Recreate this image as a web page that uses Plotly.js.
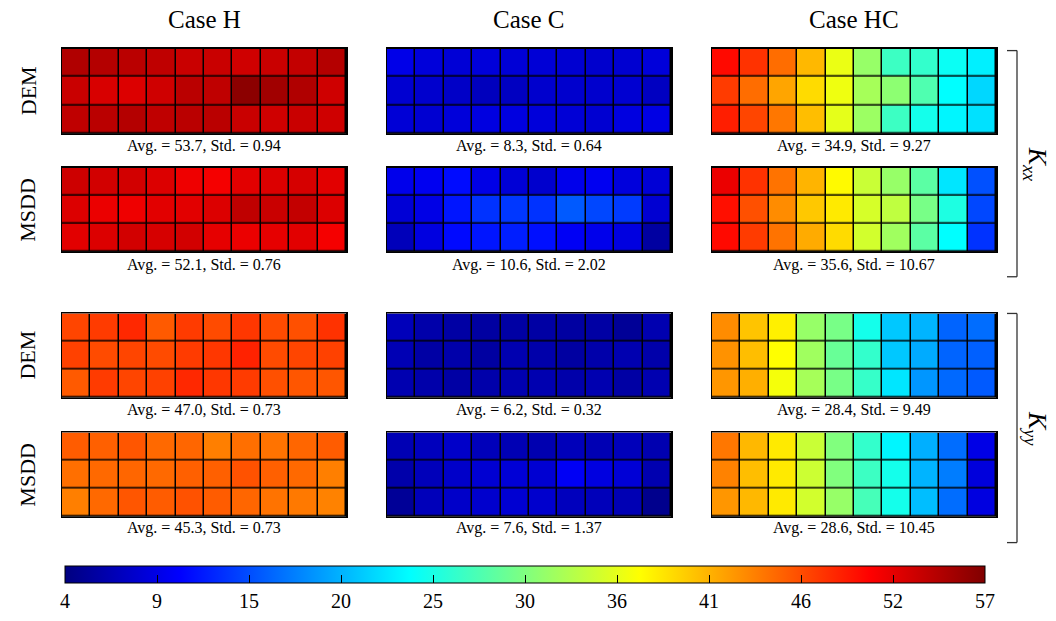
<!DOCTYPE html>
<html><head><meta charset="utf-8">
<script src="https://cdn.plot.ly/plotly-3.0.1.min.js"></script>
<style>html,body{margin:0;padding:0;background:#fff}#chart{width:1056px;height:621px}</style>
</head><body><div id="chart"></div><script>
// ---- data (cell values, rows listed top to bottom) ----
const caseNames = ["Case H", "Case C", "Case HC"];
const methodNames = ["DEM", "MSDD"];
const componentNames = ["<i>K</i><sub><i>xx</i></sub>", "<i>K</i><sub><i>yy</i></sub>"];

const kxx_H_DEM = [
  [54.5,54.3,54.0,53.7,53.2,53.2,52.9,53.2,53.5,54.3],
  [53.2,52.4,52.2,52.9,54.0,53.7,56.4,55.3,54.5,52.9],
  [53.7,54.0,54.3,53.7,54.0,54.0,53.2,52.9,53.2,52.9]];
const kxx_H_MSDD = [
  [53.0,52.7,52.7,52.2,51.2,50.9,51.9,52.2,52.5,51.9],
  [52.2,51.4,51.2,51.9,51.9,52.2,53.7,53.2,53.5,52.2],
  [51.9,52.2,52.7,52.5,52.7,51.7,51.4,51.7,51.9,50.9]];
const kxx_C_DEM = [
  [9.4,8.7,8.5,8.7,8.5,8.5,8.2,8.0,8.2,8.7],
  [8.2,8.0,7.7,7.2,7.4,8.0,8.0,8.0,8.2,7.4],
  [8.5,8.2,8.7,9.0,9.0,8.7,8.5,8.2,9.0,9.2]];
const kxx_C_MSDD = [
  [9.6,9.9,11.2,9.3,8.5,8.0,9.6,9.9,8.8,8.5],
  [8.5,9.3,11.7,13.2,13.5,13.2,15.3,14.3,13.7,8.3],
  [7.0,9.0,11.1,11.7,12.2,11.4,10.1,9.6,9.0,5.7]];
const kxx_HC_DEM = [
  [49.9,47.8,44.7,40.8,36.1,31.7,27.0,26.5,24.4,23.1],
  [47.3,44.7,41.8,39.0,36.3,32.5,31.2,28.0,23.9,21.8],
  [48.8,46.8,44.2,40.5,35.8,32.0,27.0,24.9,23.4,22.3]];
const kxx_HC_MSDD = [
  [51.4,47.8,44.4,41.0,37.4,34.3,31.7,28.6,22.6,14.8],
  [49.6,46.2,43.1,40.0,38.2,35.0,33.8,30.1,25.4,14.3],
  [49.9,47.3,44.4,41.5,39.0,34.8,32.2,28.6,23.9,13.2]];
const kyy_H_DEM = [
  [46.8,47.3,48.3,45.7,47.3,46.5,47.5,46.5,46.2,47.8],
  [47.0,46.5,46.8,46.5,47.3,47.5,48.6,46.5,46.8,47.0],
  [45.7,47.3,46.8,47.0,48.3,47.5,47.3,46.2,45.9,45.9]];
const kyy_H_MSDD = [
  [45.6,45.4,45.9,44.9,45.1,43.8,44.6,44.4,45.1,45.6],
  [44.6,44.9,45.1,44.9,45.4,45.4,46.1,45.4,44.9,43.8],
  [43.8,44.9,45.9,45.6,46.1,45.6,45.1,44.4,44.1,43.6]];
const kyy_C_DEM = [
  [7.0,6.2,5.9,5.7,5.9,5.9,5.7,5.9,5.2,6.5],
  [6.7,5.9,6.2,5.7,6.5,6.2,5.7,6.2,6.5,6.2],
  [6.5,6.2,5.9,6.2,6.5,6.5,6.2,6.5,5.9,6.5]];
const kyy_C_MSDD = [
  [6.7,7.2,7.8,7.0,6.7,6.5,7.0,6.7,7.0,6.5],
  [6.2,7.0,7.8,8.3,8.5,8.3,10.1,9.0,8.5,6.5],
  [5.2,7.0,7.8,8.0,8.3,8.0,7.2,7.0,6.7,4.7]];
const kyy_HC_DEM = [
  [43.1,40.2,37.9,31.7,30.1,24.9,21.0,20.0,15.8,16.3],
  [42.8,40.5,37.1,32.2,29.3,26.5,21.0,19.5,15.8,15.6],
  [42.6,41.3,36.6,32.5,30.1,26.7,22.6,18.4,16.1,15.3]];
const kyy_HC_MSDD = [
  [44.2,40.8,38.2,34.3,30.6,26.5,23.4,19.7,16.3,9.3],
  [43.6,40.5,38.2,34.5,30.6,27.0,24.9,20.0,17.1,8.8],
  [42.6,40.8,38.2,34.8,31.7,27.5,24.9,20.5,16.3,9.0]];

// panel statistics (rows: Kxx DEM, Kxx MSDD, Kyy DEM, Kyy MSDD; cols: H, C, HC)
const avgValues = [
  ["53.7","8.3","34.9"],
  ["52.1","10.6","35.6"],
  ["47.0","6.2","28.4"],
  ["45.3","7.6","28.6"]];
const stdValues = [
  ["0.94","0.64","9.27"],
  ["0.76","2.02","10.67"],
  ["0.73","0.32","9.49"],
  ["0.73","1.37","10.45"]];

const cbTickVals = [4, 9.3, 14.6, 19.9, 25.2, 30.5, 35.8, 41.1, 46.4, 51.7, 57];
const cbTickText = ["4","9","15","20","25","30","36","41","46","52","57"];
const cMin = 4, cMax = 57;

// ---- layout geometry (pixels) ----
const W = 1056, H = 621;
const colPx = [[62,346],[387,671],[712,996]];
const rowPx = [[49,135],[169,254],[316,401],[436,521]];
const avgYPx = [147,267,413,532];
const grid = [
  [kxx_H_DEM, kxx_C_DEM, kxx_HC_DEM],
  [kxx_H_MSDD, kxx_C_MSDD, kxx_HC_MSDD],
  [kyy_H_DEM, kyy_C_DEM, kyy_HC_DEM],
  [kyy_H_MSDD, kyy_C_MSDD, kyy_HC_MSDD]];

const jet = [[0,'rgb(0,0,128)'],[0.125,'rgb(0,0,255)'],[0.375,'rgb(0,255,255)'],
             [0.625,'rgb(255,255,0)'],[0.875,'rgb(255,0,0)'],[1,'rgb(128,0,0)']];
const serif = 'Liberation Serif';
const fx = px => px / W, fy = px => 1 - px / H;

const traces = [];
const layout = {
  width: W, height: H, margin: {l:0,r:0,t:0,b:0},
  paper_bgcolor: '#fff', plot_bgcolor: '#000', showlegend: false,
  font: {family: serif, color: '#000', size: 16},
  coloraxis: {
    cmin: cMin, cmax: cMax, colorscale: jet,
    colorbar: {
      orientation: 'h', x: fx(525), xanchor: 'center', y: fy(571), yanchor: 'top',
      len: 920 / W, lenmode: 'fraction', thickness: 17, thicknessmode: 'pixels',
      xpad: 0, ypad: 0, outlinecolor: '#000', outlinewidth: 1,
      tickmode: 'array', tickvals: cbTickVals, ticktext: cbTickText,
      ticks: 'inside', ticklen: 8, tickcolor: '#000', tickwidth: 1,
      tickfont: {family: serif, size: 20, color: '#000'}
    }
  },
  annotations: [], shapes: []
};

let k = 0;
for (let r = 0; r < 4; r++) {
  for (let c = 0; c < 3; c++) {
    const id = k === 0 ? '' : String(k + 1);
    traces.push({type: 'heatmap', z: grid[r][c], coloraxis: 'coloraxis',
      xaxis: 'x' + id, yaxis: 'y' + id, xgap: 1.5, ygap: 1.5, hoverinfo: 'skip'});
    const ax = {showticklabels: false, ticks: '', showgrid: false, zeroline: false,
      showline: true, mirror: true, linecolor: '#000', linewidth: 1.5, fixedrange: true};
    layout['xaxis' + id] = Object.assign({}, ax, {domain: [fx(colPx[c][0]), fx(colPx[c][1])],
      range: [-0.5, 9.5], anchor: 'y' + id});
    layout['yaxis' + id] = Object.assign({}, ax, {domain: [fy(rowPx[r][1]), fy(rowPx[r][0])],
      range: [2.5, -0.5], anchor: 'x' + id});
    layout.annotations.push({xref: 'paper', yref: 'paper', x: fx((colPx[c][0] + colPx[c][1]) / 2),
      y: fy(avgYPx[r]), xanchor: 'center', yanchor: 'middle', showarrow: false,
      text: 'Avg. = ' + avgValues[r][c] + ', Std. = ' + stdValues[r][c],
      font: {family: serif, size: 16, color: '#000'}});
    k++;
  }
}
// column titles
for (let c = 0; c < 3; c++) {
  layout.annotations.push({xref: 'paper', yref: 'paper', x: fx((colPx[c][0] + colPx[c][1]) / 2),
    y: fy(20), xanchor: 'center', yanchor: 'middle', showarrow: false, text: caseNames[c],
    font: {family: serif, size: 25, color: '#000'}});
}
// row labels
for (let r = 0; r < 4; r++) {
  layout.annotations.push({xref: 'paper', yref: 'paper', x: fx(28),
    y: fy((rowPx[r][0] + rowPx[r][1]) / 2), xanchor: 'center', yanchor: 'middle',
    showarrow: false, textangle: -90, text: methodNames[r % 2],
    font: {family: serif, size: 22, color: '#000'}});
}
// brackets and component labels
const bracketPx = [[51,279],[316,547]];
for (let g = 0; g < 2; g++) {
  const [y0, y1] = bracketPx[g];
  const ln = {type: 'line', xref: 'paper', yref: 'paper', line: {color: '#333', width: 1.3}};
  layout.shapes.push(Object.assign({}, ln, {x0: fx(1017), x1: fx(1017), y0: fy(y0), y1: fy(y1)}));
  layout.shapes.push(Object.assign({}, ln, {x0: fx(1007), x1: fx(1017), y0: fy(y0), y1: fy(y0)}));
  layout.shapes.push(Object.assign({}, ln, {x0: fx(1007), x1: fx(1017), y0: fy(y1), y1: fy(y1)}));
  layout.annotations.push({xref: 'paper', yref: 'paper', x: fx(1036), y: fy((y0 + y1) / 2),
    xanchor: 'center', yanchor: 'middle', showarrow: false, textangle: 90,
    text: componentNames[g], font: {family: serif, size: 26, color: '#000'}});
}

Plotly.newPlot('chart', traces, layout, {staticPlot: true, displayModeBar: false});
</script></body></html>
